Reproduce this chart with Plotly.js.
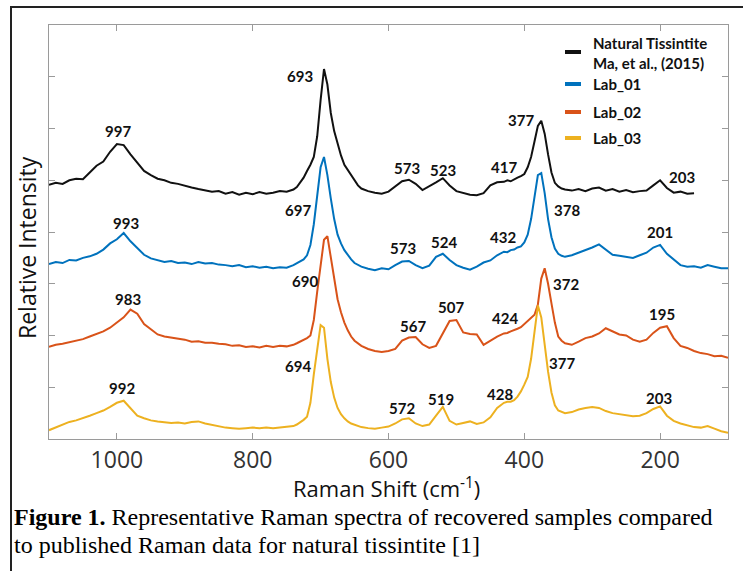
<!DOCTYPE html>
<html>
<head>
<meta charset="utf-8">
<script src="https://cdn.plot.ly/plotly-3.0.1.min.js"></script>
<style>
html,body{margin:0;padding:0;background:#fff;}
#chart{width:743px;height:571px;}
</style>
</head>
<body>
<div id="chart"></div>
<script>
// ---------- DATA ----------
const wavenumber = [
 1100,1090,1080,1070,1060,1050,1040,1030,1020,1010,1000,990,980,970,960,950,940,930,920,910,900,890,880,870,860,850,840,830,820,810,800,790,780,770,760,750,740,
 735,730,725,720,715,710,705,700,695,690,685,680,675,670,665,660,655,650,645,
 640,630,620,610,600,590,580,570,560,550,540,530,520,510,500,490,480,470,460,450,440,430,
 425,420,415,410,405,400,395,390,385,380,375,370,365,360,355,350,345,
 340,330,320,310,300,290,280,270,260,250,240,230,220,210,200,190,180,170,160,150,140,130,120,110,100
];

const naturalTissintite = [
 4.91,4.95,4.93,5.00,5.03,5.02,5.15,5.28,5.36,5.55,5.70,5.68,5.50,5.33,5.18,5.10,5.03,5.00,4.95,4.93,4.89,4.86,4.83,4.80,4.78,4.79,4.74,4.77,4.72,4.76,4.73,4.77,4.74,4.76,4.79,4.78,4.82,
 4.87,4.95,5.05,5.18,5.30,5.45,5.85,6.55,7.15,6.85,6.30,5.95,5.70,5.48,5.30,5.20,5.08,4.98,4.90,
 4.84,4.79,4.76,4.74,4.78,4.88,4.98,5.01,4.93,4.81,4.88,4.96,5.04,4.90,4.79,4.76,4.72,4.71,4.75,4.90,4.96,4.97,
 5.00,4.98,5.02,5.05,5.08,5.12,5.25,5.45,5.75,6.05,6.15,5.90,5.50,5.15,4.95,4.88,4.84,
 4.82,4.80,4.83,4.79,4.84,4.86,4.80,4.83,4.78,4.81,4.77,4.79,4.80,4.90,5.00,4.85,4.76,4.78,4.74,4.75
];

const lab01 = [
 3.38,3.42,3.40,3.46,3.45,3.50,3.53,3.58,3.66,3.78,3.86,3.98,3.82,3.68,3.56,3.49,3.46,3.42,3.44,3.40,3.41,3.38,3.42,3.39,3.40,3.37,3.36,3.34,3.36,3.32,3.34,3.31,3.33,3.30,3.32,3.31,3.36,
 3.40,3.43,3.47,3.55,3.75,4.15,4.70,5.25,5.45,5.10,4.65,4.25,3.95,3.78,3.65,3.55,3.47,3.40,3.36,
 3.33,3.29,3.26,3.30,3.28,3.36,3.43,3.44,3.36,3.30,3.35,3.52,3.58,3.46,3.36,3.31,3.27,3.33,3.41,3.45,3.55,3.62,
 3.61,3.65,3.66,3.70,3.72,3.80,3.95,4.25,4.70,5.10,5.14,4.75,4.25,3.90,3.68,3.58,3.54,
 3.52,3.55,3.60,3.64,3.70,3.76,3.66,3.56,3.54,3.52,3.50,3.55,3.60,3.70,3.75,3.58,3.47,3.36,3.33,3.34,3.31,3.36,3.33,3.30,3.30
];

const lab02 = [
 1.78,1.82,1.84,1.87,1.90,1.93,1.98,2.03,2.08,2.15,2.25,2.35,2.50,2.42,2.22,2.12,2.02,1.98,1.96,1.93,1.92,1.88,1.89,1.86,1.86,1.84,1.83,1.80,1.81,1.78,1.79,1.77,1.80,1.78,1.80,1.79,1.82,
 1.85,1.88,1.92,1.95,2.00,2.30,2.85,3.40,3.85,3.92,3.50,3.05,2.70,2.45,2.25,2.10,1.98,1.90,1.85,
 1.80,1.74,1.70,1.68,1.70,1.74,1.90,1.96,1.97,1.83,1.76,1.80,2.05,2.28,2.30,2.06,2.03,2.02,1.82,1.90,1.98,2.04,
 2.05,2.08,2.10,2.13,2.16,2.22,2.28,2.35,2.40,2.60,3.10,3.30,3.00,2.62,2.25,1.98,1.90,
 1.85,1.82,1.88,1.95,1.98,2.04,2.14,2.08,2.02,2.00,1.92,1.88,1.92,2.05,2.15,2.18,1.95,1.80,1.76,1.70,1.66,1.64,1.60,1.61,1.57
];

const lab03 = [
 0.17,0.22,0.27,0.33,0.36,0.40,0.45,0.50,0.55,0.62,0.70,0.74,0.60,0.45,0.40,0.36,0.34,0.33,0.31,0.32,0.30,0.33,0.34,0.30,0.27,0.24,0.22,0.21,0.20,0.21,0.22,0.21,0.22,0.21,0.22,0.23,0.25,
 0.28,0.32,0.37,0.43,0.70,1.25,1.75,2.20,2.15,1.55,1.10,0.80,0.60,0.48,0.40,0.34,0.30,0.28,0.25,
 0.23,0.21,0.20,0.22,0.24,0.30,0.38,0.40,0.30,0.25,0.28,0.45,0.62,0.35,0.28,0.31,0.34,0.29,0.32,0.42,0.60,0.70,
 0.72,0.72,0.75,0.82,0.92,1.05,1.20,1.55,2.10,2.58,2.35,1.80,1.30,0.90,0.65,0.55,0.52,
 0.50,0.52,0.57,0.60,0.62,0.60,0.54,0.50,0.48,0.46,0.44,0.45,0.50,0.58,0.63,0.45,0.35,0.30,0.26,0.23,0.22,0.25,0.20,0.15,0.12
];

const seriesNames = ["Natural Tissintite", "Lab_01", "Lab_02", "Lab_03"];
const legendSubtitle = "Ma, et al., (2015)";
const xTickValues = [1000, 800, 600, 400, 200];
const xTickLabels = ["1000", "800", "600", "400", "200"];

// peak labels (text) per series
const naturalPeaks = ["997", "693", "573", "523", "417", "377", "203"];
const lab01Peaks   = ["993", "697", "573", "524", "432", "378", "201"];
const lab02Peaks   = ["983", "690", "567", "507", "424", "372", "195"];
const lab03Peaks   = ["992", "694", "572", "519", "428", "377", "203"];

// ---------- LAYOUT / STYLE ----------
const colors = ["#111111", "#0072BD", "#D95319", "#EDB120"];
const allY = [naturalTissintite, lab01, lab02, lab03];

const traces = allY.map((ys, i) => ({
  type: "scatter", mode: "lines",
  x: wavenumber.slice(0, ys.length), y: ys,
  name: seriesNames[i],
  line: {color: colors[i], width: 2},
  showlegend: false, hoverinfo: "skip"
}));

// label placement (data coords) -- positions only
const labelPos = [
  [[998,5.95],[730,7.01],[573,5.24],[520,5.20],[430,5.26],[405,6.16],[168,5.06]],
  [[987,4.17],[733,4.43],[579,3.69],[518,3.81],[431,3.90],[337,4.43],[200,4.00]],
  [[984,2.71],[723,3.05],[564,2.18],[508,2.55],[428,2.34],[339,3.00],[197,2.42]],
  [[992,0.99],[733,1.41],[580,0.60],[523,0.77],[436,0.87],[344,1.47],[202,0.79]]
];
const peakTexts = [naturalPeaks, lab01Peaks, lab02Peaks, lab03Peaks];

const L = 49, R = 728, T = 25, B = 439, W = 743, H = 571;
const px = x => (x - L) / (R - L);
const py = y => (B - y) / (B - T);

const labelFont = {family: "Lato, 'Open Sans', sans-serif", size: 15, color: "#111"};
const annotations = [];
peakTexts.forEach((arr, i) => arr.forEach((t, j) => {
  annotations.push({
    x: labelPos[i][j][0], y: labelPos[i][j][1], xref: "x", yref: "y",
    text: "<b>" + t + "</b>", showarrow: false, font: labelFont,
    xanchor: "center", yanchor: "middle"
  });
}));

// legend (manual)
const legendRows = [43, 84, 112, 138];
const dashRows = [52, 84, 112, 138];
const shapes = [];
seriesNames.forEach((n, i) => {
  shapes.push({type: "line", xref: "paper", yref: "paper",
    x0: px(565), x1: px(581), y0: py(dashRows[i]), y1: py(dashRows[i]),
    line: {color: colors[i], width: 4}});
  annotations.push({xref: "paper", yref: "paper", x: px(591), y: py(legendRows[i]),
    text: "<b>" + n + "</b>", showarrow: false, xanchor: "left", yanchor: "middle",
    font: labelFont});
});
annotations.push({xref: "paper", yref: "paper", x: px(591), y: py(63),
  text: "<b>" + legendSubtitle + "</b>", showarrow: false, xanchor: "left", yanchor: "middle",
  font: labelFont});

// axis titles (placed as text)
const titleFont = {family: "'Open Sans', sans-serif", size: 22, color: "#111"};
annotations.push({xref: "paper", yref: "paper", x: px(27), y: py(248), xanchor: "center", yanchor: "middle",
  text: "Relative Intensity", textangle: -90, showarrow: false,
  font: Object.assign({}, titleFont, {size: 23})});
annotations.push({xref: "paper", yref: "paper", x: px(386), y: py(487), xanchor: "center", yanchor: "middle",
  text: "Raman Shift (cm<sup>-1</sup>)", showarrow: false, font: titleFont});

// caption
const capFont = {family: "'Liberation Serif', 'Times New Roman', serif", size: 24, color: "#000"};
annotations.push({xref: "paper", yref: "paper", x: px(12), y: py(517), xanchor: "left", yanchor: "middle",
  text: "<b>Figure 1.</b> Representative Raman spectra of recovered samples compared",
  showarrow: false, font: capFont});
annotations.push({xref: "paper", yref: "paper", x: px(12), y: py(545), xanchor: "left", yanchor: "middle",
  text: "to published Raman data for natural tissintite [1]",
  showarrow: false, font: capFont});

// outer frame
shapes.push({type: "line", xref: "paper", yref: "paper", x0: px(11), x1: px(745), y0: py(7), y1: py(7),
  line: {color: "#222", width: 2}});
shapes.push({type: "line", xref: "paper", yref: "paper", x0: px(11), x1: px(11), y0: py(6), y1: py(575),
  line: {color: "#222", width: 2}});

const axisCommon = {
  showgrid: false, zeroline: false, showline: true, linecolor: "#9a9a9a", linewidth: 1,
  mirror: "ticks", ticks: "inside", ticklen: 6, tickcolor: "#9a9a9a", tickwidth: 1
};

const layout = {
  width: W, height: H,
  margin: {l: L, r: W - R, t: T, b: H - B, pad: 0},
  paper_bgcolor: "#fff", plot_bgcolor: "#fff",
  showlegend: false,
  xaxis: Object.assign({}, axisCommon, {
    range: [1100, 100], tickvals: xTickValues, ticktext: xTickLabels,
    tickfont: {family: "'Open Sans', sans-serif", size: 23, color: "#333"},
    automargin: false
  }),
  yaxis: Object.assign({}, axisCommon, {
    range: [0, 8], dtick: 1, tick0: 0, showticklabels: false,
    automargin: false
  }),
  annotations: annotations,
  shapes: shapes
};

Plotly.newPlot("chart", traces, layout, {displayModeBar: false, staticPlot: true});
</script>
</body>
</html>
